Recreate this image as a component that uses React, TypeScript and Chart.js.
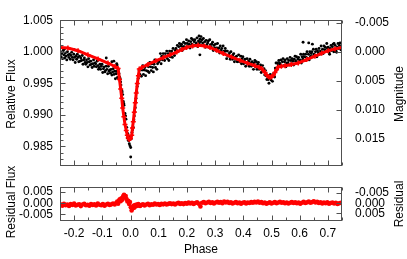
import React, { useEffect, useRef } from 'react';
import { Chart, registerables } from 'chart.js';
Chart.register(...registerables);

const FONT = '"Liberation Sans", Arial, Helvetica, sans-serif';
const RED = '#ff0000';
const FRAME = '#505050';

const PHASE_MIN = -0.25;
const PHASE_MAX = 0.75;
const FLUX_MIN = 0.9819;
const FLUX_MAX = 1.005;
const RES_MIN = -0.008;
const RES_MAX = 0.0073;

const phaseTicks = [-0.2, -0.1, 0.0, 0.1, 0.2, 0.3, 0.4, 0.5, 0.6, 0.7];
const phaseMinorTicks = [-0.25, -0.15, -0.05, 0.05, 0.15, 0.25, 0.35, 0.45, 0.55, 0.65, 0.75];
const fluxTicks = [0.985, 0.99, 0.995, 1.0, 1.005];
const magTicks = [-0.005, 0.0, 0.005, 0.01, 0.015];
const magTickLabels = ['-0.005', '0.000', '0.005', '0.010', '0.015'];
const resTicks = [-0.005, 0.0, 0.005];
const resMagTicks = [-0.005, 0.0, 0.005];
const resMagLabels = ['-0.005', '0.000', '0.005'];

// model light curve (red)
const modelPhase = [
  -0.25, -0.222, -0.186, -0.151, -0.115, -0.08, -0.055, -0.044,
  -0.039, -0.0348, -0.031, -0.0277, -0.0235, -0.0195, -0.015, -0.0113, -0.008, -0.0043,
  0.0, 0.0043, 0.007, 0.0099, 0.0135, 0.017, 0.0205, 0.0241, 0.028, 0.0312,
  0.04, 0.062, 0.09, 0.116, 0.14, 0.164, 0.182, 0.199, 0.22, 0.24, 0.262, 0.282,
  0.305, 0.329, 0.358, 0.388, 0.415, 0.441, 0.456, 0.465, 0.471, 0.477, 0.483,
  0.489, 0.495, 0.501, 0.507, 0.512, 0.518, 0.524, 0.535, 0.548, 0.57, 0.595,
  0.625, 0.654, 0.678, 0.701, 0.725, 0.75,
];
const modelFlux = [
  1.00068, 1.00058, 1.00016, 0.99951, 0.99886, 0.99821, 0.99765, 0.99734,
  0.9956, 0.99409, 0.9926, 0.99106, 0.9897, 0.98847, 0.9875, 0.98673, 0.9863, 0.98608,
  0.98625, 0.98673, 0.9879, 0.9889, 0.9904, 0.99192, 0.99345, 0.99496, 0.9962, 0.99727,
  0.9975, 0.99799, 0.99855, 0.99906, 0.9995, 0.99994, 1.00035, 1.00068, 1.00092, 1.00101, 1.0009, 1.00068,
  1.00022, 0.99971, 0.99918, 0.99864, 0.99818, 0.99777, 0.99752, 0.99734, 0.997, 0.99669, 0.9963,
  0.99604, 0.99595, 0.99604, 0.9963, 0.99669, 0.99715, 0.99756, 0.9977, 0.99777, 0.99798, 0.99821,
  0.99875, 0.99929, 0.99975, 1.00016, 1.00045, 1.00068,
];

// observed points (black)
const obsPhase = [
  // before primary eclipse
  -0.2485, -0.246, -0.2435, -0.241, -0.2385, -0.236, -0.2335, -0.231, -0.2285, -0.226,
  -0.2235, -0.221, -0.2185, -0.216, -0.2135, -0.211, -0.2085, -0.206, -0.2035, -0.201,
  -0.1985, -0.196, -0.1935, -0.191, -0.1885, -0.186, -0.1835, -0.181, -0.1785, -0.176,
  -0.1735, -0.171, -0.1685, -0.166, -0.1635, -0.161, -0.1585, -0.156, -0.1535, -0.151,
  -0.1485, -0.146, -0.1435, -0.141, -0.1385, -0.136, -0.1335, -0.131, -0.1285, -0.126,
  -0.1235, -0.121, -0.1185, -0.116, -0.1135, -0.111, -0.1085, -0.106, -0.1035, -0.101,
  -0.0985, -0.096, -0.0935, -0.091, -0.0885, -0.086, -0.0835, -0.081, -0.0785, -0.076,
  -0.0735, -0.071, -0.0685, -0.066, -0.0635, -0.061, -0.0585, -0.056, -0.0535, -0.051,
  -0.0485, -0.046,
  -0.235, -0.2, -0.112, -0.086, -0.066, -0.059, -0.049, -0.0475,
  // primary eclipse
  -0.0433, -0.0408, -0.039, -0.0372, -0.035, -0.0337, -0.0312, -0.0295, -0.0277, -0.0255,
  -0.024, -0.023, -0.0195, -0.0175, -0.016, -0.0135, -0.0113, -0.0095, -0.0078, -0.006,
  -0.0043, -0.002, 0.0007, 0.0007, 0.003, 0.0053, 0.0075, 0.0099, 0.012, 0.0135,
  0.0155, 0.017, 0.0185, 0.0195, 0.022, 0.024, 0.0255, 0.0275, 0.0291, 0.031,
  // rising branch
  0.0335, 0.036, 0.0385, 0.041, 0.0435, 0.046, 0.0485, 0.051, 0.0535, 0.056,
  0.0585, 0.061, 0.0635, 0.066, 0.0685, 0.071, 0.0735, 0.076, 0.0785, 0.081,
  0.0835, 0.086, 0.0885, 0.091, 0.0935, 0.096, 0.0985,
  0.101, 0.1035, 0.106, 0.1085, 0.111, 0.1135, 0.116, 0.1185, 0.121, 0.1235,
  0.126, 0.1285, 0.131, 0.1335, 0.136, 0.1385, 0.141, 0.1435, 0.146, 0.1485,
  0.151, 0.1535, 0.156, 0.1585, 0.161,
  // maximum
  0.1635, 0.166, 0.1685, 0.171, 0.1735, 0.176, 0.1785, 0.181, 0.1835, 0.186,
  0.1885, 0.191, 0.1935, 0.196, 0.1985, 0.201, 0.2035, 0.206, 0.2085, 0.211,
  0.2135, 0.216, 0.2185, 0.221, 0.2235, 0.226, 0.2285, 0.231, 0.2335, 0.236,
  0.2385, 0.241, 0.2435, 0.246, 0.2485, 0.251, 0.2535, 0.256, 0.2585, 0.261,
  0.2635, 0.266, 0.2685, 0.271, 0.2735, 0.276, 0.2785, 0.281, 0.2835, 0.286,
  0.2885, 0.291, 0.2935, 0.296, 0.2985, 0.301, 0.3035, 0.306, 0.3085, 0.311,
  0.3135, 0.316, 0.3185, 0.321, 0.3235, 0.326, 0.3285, 0.331, 0.3335, 0.336,
  0.3385, 0.246, 0.243, 0.25,
  // falling branch
  0.341, 0.3435, 0.346, 0.3485, 0.351, 0.3535, 0.356, 0.3585, 0.361, 0.3635,
  0.366, 0.3685, 0.371, 0.3735, 0.376, 0.3785, 0.381, 0.3835, 0.386, 0.3885,
  0.391, 0.3935, 0.396, 0.3985, 0.401, 0.4035, 0.406, 0.4085, 0.411, 0.4135,
  0.416, 0.4185, 0.421, 0.4235, 0.426, 0.4285, 0.431, 0.4335, 0.436, 0.4385,
  0.441, 0.4435,
  // secondary eclipse
  0.446, 0.4485, 0.451, 0.4535, 0.456, 0.4585, 0.461, 0.4635, 0.466, 0.4685,
  0.471, 0.4735, 0.476, 0.4785, 0.481, 0.4835, 0.486, 0.4885, 0.491, 0.4935,
  0.496, 0.4985, 0.501, 0.5035, 0.506, 0.5085, 0.511, 0.5135, 0.516, 0.5185,
  0.521, 0.5235, 0.526, 0.5285,
  // after secondary
  0.531, 0.5335, 0.536, 0.5385, 0.541, 0.5435, 0.546, 0.5485, 0.551, 0.5535,
  0.556, 0.5585, 0.561, 0.5635, 0.566, 0.5685, 0.571, 0.5735, 0.576, 0.5785,
  0.581, 0.5835, 0.586, 0.5885, 0.591, 0.5935, 0.596, 0.5985, 0.601, 0.6035,
  0.606, 0.6085, 0.611, 0.6135, 0.616, 0.6185, 0.621, 0.6235, 0.626, 0.6285,
  0.631, 0.6335, 0.636, 0.6385, 0.641, 0.6435, 0.646, 0.6485, 0.651, 0.6535,
  0.656, 0.6585, 0.661, 0.6635, 0.666, 0.6685, 0.671, 0.6735, 0.676, 0.6785,
  0.681, 0.6835, 0.686, 0.6885, 0.691, 0.6935, 0.696, 0.6985,
  0.701, 0.7035, 0.706, 0.7085, 0.711, 0.7135, 0.716, 0.7185, 0.721, 0.7235,
  0.726, 0.7285, 0.731, 0.7335, 0.736, 0.7385, 0.741, 0.7435, 0.746, 0.7485,
  0.612, 0.632, 0.645, 0.722,
];
const obsFlux = [
  // before primary eclipse
  1.0, 0.9992, 0.9997, 0.9989, 1.0002, 0.9995, 0.999, 0.9998, 0.9993, 0.9987,
  1.0, 0.9995, 0.9991, 0.9996, 0.9988, 0.9994, 0.9999, 0.9991, 0.9987, 0.9996,
  0.9991, 0.9983, 0.9993, 0.9988, 0.9996, 0.9991, 0.9984, 0.9993, 0.9985, 0.999,
  0.9986, 0.9994, 0.998, 0.9987, 0.999, 0.9983, 0.998, 0.9987, 0.9983, 0.9976,
  0.9989, 0.9984, 0.9979, 0.9985, 0.998, 0.9975, 0.9981, 0.9987, 0.9977, 0.9982,
  0.9981, 0.9976, 0.9985, 0.9978, 0.9972, 0.9975, 0.998, 0.9972, 0.9977, 0.998,
  0.9967, 0.9973, 0.9976, 0.9968, 0.997, 0.9977, 0.9972, 0.9965, 0.9977, 0.9969,
  0.9971, 0.9966, 0.9972, 0.9963, 0.9968, 0.9973, 0.9964, 0.9969, 0.9957, 0.9965,
  0.9969, 0.9959,
  1.0004, 1.0003, 0.9987, 0.999, 0.9984, 0.9985, 0.9981, 0.9979,
  // primary eclipse
  0.9972, 0.9965, 0.996, 0.9958, 0.9952, 0.9947, 0.9939, 0.9936, 0.9932, 0.9921,
  0.9918, 0.9915, 0.9902, 0.9898, 0.9893, 0.988, 0.9863, 0.987, 0.9859, 0.9866,
  0.9854, 0.9851, 0.9848, 0.9833, 0.9862, 0.9872, 0.9876, 0.988, 0.9892, 0.9898,
  0.9905, 0.9911, 0.992, 0.9926, 0.9937, 0.9945, 0.995, 0.9958, 0.9963, 0.997,
  // rising branch
  0.9964, 0.9974, 0.9961, 0.9971, 0.9978, 0.9964, 0.9971, 0.9975, 0.9962, 0.997,
  0.9979, 0.9969, 0.9976, 0.9967, 0.9983, 0.9976, 0.997, 0.9981, 0.9975, 0.9968,
  0.998, 0.9987, 0.9975, 0.9986, 0.9972, 0.9981, 0.9985,
  0.9984, 0.9987, 0.9997, 0.9981, 0.9993, 0.9987, 0.9997, 0.9992, 0.9986, 0.9997,
  0.9992, 1.0001, 0.9989, 0.9997, 0.9986, 1.0001, 0.9992, 0.9997, 1.0001, 0.9991,
  1.0005, 0.9997, 0.9994, 1.0002, 1.0005,
  // maximum
  1.0002, 1.001, 1.0, 1.0008, 1.0013, 1.0003, 1.0009, 1.0012, 1.0002, 1.0008,
  1.0015, 1.0008, 1.0013, 1.0006, 1.0019, 1.0013, 1.0008, 1.0017, 1.0012, 1.0006,
  1.0016, 1.0021, 1.0012, 1.0019, 1.0009, 1.0016, 1.0019, 1.0011, 1.0014, 1.0022,
  1.0008, 1.0017, 1.0013, 1.002, 1.0016, 1.001, 1.0019, 1.0014, 1.0021, 1.001,
  1.0016, 1.0007, 1.0018, 1.0011, 1.0014, 1.0017, 1.0007, 1.0019, 1.0011, 1.0007,
  1.0012, 1.0015, 1.0002, 1.001, 1.0006, 1.0012, 1.0002, 1.0006, 1.0013, 1.0002,
  1.0006, 0.9998, 1.0009, 1.0002, 1.0005, 0.9998, 1.0009, 1.0001, 0.9997, 1.0005,
  1.0001, 0.9995, 1.0025, 1.0024,
  // falling branch
  0.9989, 1.0001, 0.9993, 0.9995, 0.9998, 0.9988, 1.0, 0.9992, 0.9988, 0.9995,
  0.9997, 0.9984, 0.9991, 0.9988, 0.9993, 0.9984, 0.9987, 0.9995, 0.9984, 0.9985,
  0.9993, 0.9981, 0.9989, 0.9992, 0.9981, 0.9985, 0.9988, 0.9977, 0.9982, 0.9989,
  0.9981, 0.9985, 0.9977, 0.9988, 0.9982, 0.9977, 0.9984, 0.9979, 0.9972, 0.9982,
  0.9986, 0.9976,
  // secondary eclipse
  0.9984, 0.9972, 0.998, 0.9983, 0.9972, 0.9976, 0.9979, 0.9967, 0.9972, 0.9978,
  0.9969, 0.9973, 0.9963, 0.997, 0.9962, 0.9956, 0.9962, 0.9956, 0.995, 0.9959,
  0.9964, 0.9955, 0.9962, 0.9953, 0.9961, 0.9966, 0.996, 0.9974, 0.9982, 0.9972,
  0.9982, 0.9979, 0.9986, 0.9982,
  // after secondary
  0.998, 0.9987, 0.9977, 0.9984, 0.9989, 0.9978, 0.9984, 0.9987, 0.9976, 0.9982,
  0.9989, 0.9982, 0.9986, 0.9979, 0.9991, 0.9986, 0.9981, 0.9989, 0.9985, 0.9979,
  0.9988, 0.9993, 0.9985, 0.9992, 0.9982, 0.9988, 0.9991, 0.9984, 0.9987, 0.9996,
  0.9982, 0.9992, 0.9988, 0.9996, 0.9992, 0.9986, 0.9996, 0.9991, 1.0, 0.9989,
  0.9996, 0.9987, 1.0, 0.9993, 0.9997, 1.0, 0.9992, 1.0004, 0.9996, 0.9994,
  1.0, 1.0004, 0.9992, 1.0001, 0.9998, 1.0005, 0.9996, 1.0001, 1.0009, 0.9999,
  1.0004, 0.9997, 1.0009, 1.0003, 1.0007, 1.0001, 1.0013, 1.0005,
  1.0007, 0.9999, 0.9996, 1.0005, 1.001, 1.0002, 1.0008, 1.0012, 1.0, 1.0004,
  1.001, 1.0002, 0.9999, 1.0007, 1.0013, 1.0005, 1.001, 1.0014, 1.0003, 1.0007,
  1.0015, 1.0014, 1.0012, 1.0013,
];

// residuals (red, lower panel)
const resPhase = [
  -0.248, -0.242, -0.236, -0.23, -0.224, -0.218, -0.212, -0.206, -0.2, -0.194, -0.188, -0.182, -0.176, -0.17,
  -0.164, -0.158, -0.152, -0.146, -0.14, -0.134, -0.128, -0.122, -0.116, -0.11, -0.104, -0.098, -0.092, -0.086,
  -0.08, -0.074, -0.068, -0.062, -0.056, -0.05,
  -0.047, -0.044, -0.041, -0.038, -0.035, -0.032, -0.029, -0.026, -0.023, -0.02, -0.017, -0.014, -0.011, -0.008,
  -0.005, -0.002, 0.001, 0.004, 0.007, 0.01, 0.013, 0.016, 0.019, 0.022, 0.025, 0.028, 0.031, 0.034,
  0.038, 0.044, 0.05, 0.056, 0.062, 0.068, 0.074, 0.08, 0.086, 0.092, 0.098, 0.104, 0.11, 0.116, 0.122, 0.128,
  0.134, 0.14, 0.146, 0.152, 0.158, 0.164, 0.17, 0.176, 0.182, 0.188, 0.194, 0.2, 0.206, 0.212, 0.218, 0.224,
  0.23, 0.236, 0.242, 0.248, 0.254, 0.26, 0.266, 0.272, 0.278, 0.284, 0.29, 0.296, 0.302, 0.308, 0.314, 0.32,
  0.326, 0.332, 0.338, 0.344, 0.35, 0.356, 0.362, 0.368, 0.374, 0.38, 0.386, 0.392, 0.398, 0.404, 0.41, 0.416,
  0.422, 0.428, 0.434, 0.44, 0.446, 0.452, 0.458, 0.464, 0.47, 0.476, 0.482, 0.488, 0.494, 0.5, 0.506, 0.512,
  0.518, 0.524, 0.53, 0.536, 0.542, 0.548, 0.554, 0.56, 0.566, 0.572, 0.578, 0.584, 0.59, 0.596, 0.602, 0.608,
  0.614, 0.62, 0.626, 0.632, 0.638, 0.644, 0.65, 0.656, 0.662, 0.668, 0.674, 0.68, 0.686, 0.692, 0.698, 0.704,
  0.71, 0.716, 0.722, 0.728, 0.734, 0.74, 0.746,
];
const resFlux = [
  -0.0005, -0.0011, -0.0003, -0.0009, -0.0006, -0.0012, -0.0004, -0.0008, -0.0002, -0.001, -0.0007, -0.0005, -0.0013, -0.0006,
  -0.0003, -0.0009, -0.0007, -0.0011, -0.0004, -0.0008, -0.0005, -0.001, -0.0002, -0.0007, -0.0009, -0.0004, -0.0011, -0.0006,
  -0.0003, -0.0008, -0.0005, -0.0001, -0.0006, 0.0002,
  0.0007, -0.0002, 0.0012, 0.0018, 0.0009, 0.0022, 0.0016, 0.0031, 0.0038, 0.0026, 0.0032, 0.0019, 0.0008, 0.0011,
  -0.0003, 0.0005, -0.0018, -0.0033, -0.0024, -0.0012, -0.002, -0.0008, -0.0014, -0.0006, -0.0011, -0.0004, -0.0009, -0.0012,
  -0.0008, -0.0005, -0.001, -0.0006, -0.0003, -0.0009, -0.0005, -0.0007, -0.0002, -0.0006, -0.0004, -0.0008, -0.0003, -0.0005, -0.0001, -0.0006,
  -0.0003, 0.0, -0.0004, -0.0002, -0.0006, -0.0001, 0.0002, -0.0003, 0.0, -0.0004, 0.0001, -0.0002, 0.0003, -0.0001, 0.0002, -0.0003,
  0.0001, 0.0004, -0.0002, -0.0015, 0.0002, 0.0005, 0.0, 0.0003, 0.0006, 0.0001, 0.0004, -0.0001, 0.0003, 0.0006, 0.0002, 0.0005,
  0.0, 0.0007, 0.0003, 0.0006, 0.0001, 0.0004, -0.0001, 0.0002, 0.0005, 0.0, 0.0003, -0.0002, 0.0002, 0.0004, -0.0001, 0.0003,
  0.0001, 0.0005, 0.0002, 0.0006, 0.0003, 0.0007, 0.0002, 0.0005, 0.0, 0.0003, -0.0002, 0.0001, 0.0004, -0.0001, 0.0002, 0.0005,
  0.0, 0.0003, 0.0006, 0.0002, 0.0004, 0.0, 0.0003, -0.0001, 0.0002, 0.0005, 0.0001, 0.0004, 0.0, 0.0003, -0.0002, 0.0002,
  0.0006, 0.0001, 0.0004, 0.0008, 0.0002, 0.0005, 0.0009, 0.0003, 0.0006, 0.0001, 0.0004, -0.0001, 0.0003, 0.0, 0.0004, -0.0002,
  0.0001, 0.0003, -0.0001, 0.0002, -0.0003, 0.0, 0.0002,
];

const magToFlux = (m: number) => Math.pow(10, -m / 2.5);
const magToRes = (m: number) => Math.pow(10, -m / 2.5) - 1;

type Title = { text: string; x: number; y: number; rot?: boolean };

function framePlugin(cfg: {
  id: string;
  xMajor: number[];
  xMinor: number[];
  yMajor: number[];
  yMinor: number[];
  yRight: number[];
  titles: Title[];
}) {
  return {
    id: cfg.id,
    afterDatasetsDraw(chart: any) {
      const { ctx, chartArea: a, scales } = chart;
      const L = Math.round(a.left) + 0.5;
      const R = Math.round(a.right) - 0.5;
      const T = Math.round(a.top) + 0.5;
      const B = Math.round(a.bottom) - 0.5;
      ctx.save();
      ctx.strokeStyle = FRAME;
      ctx.lineWidth = 1;
      ctx.beginPath();
      const seg = (x1: number, y1: number, x2: number, y2: number) => {
        ctx.moveTo(x1, y1);
        ctx.lineTo(x2, y2);
      };
      const xs = scales.x;
      const ys = scales.y;
      const tx = (v: number, len: number) => {
        const p = Math.round(xs.getPixelForValue(v)) + 0.5;
        seg(p, B, p, B - len);
        seg(p, T, p, T + len);
      };
      cfg.xMajor.forEach((v) => tx(v, 5));
      cfg.xMinor.forEach((v) => tx(v, 3));
      const ty = (v: number, len: number) => {
        const p = Math.round(ys.getPixelForValue(v)) + 0.5;
        seg(L, p, L + len, p);
      };
      cfg.yMajor.forEach((v) => ty(v, 5));
      cfg.yMinor.forEach((v) => ty(v, 3));
      cfg.yRight.forEach((v) => {
        const p = Math.round(ys.getPixelForValue(v)) + 0.5;
        seg(R, p, R - 5, p);
      });
      ctx.stroke();
      ctx.strokeRect(L, T, R - L, B - T);
      ctx.fillStyle = '#000';
      ctx.font = '12px ' + FONT;
      ctx.textAlign = 'center';
      ctx.textBaseline = 'middle';
      cfg.titles.forEach((t) => {
        ctx.save();
        ctx.translate(t.x, t.y);
        if (t.rot) ctx.rotate(-Math.PI / 2);
        ctx.fillText(t.text, 0, 0);
        ctx.restore();
      });
      ctx.restore();
    },
  };
}

const tickFont = { family: FONT, size: 12 };

function yAxis(min: number, max: number, width: number, position: 'left' | 'right', values: number[], labels: (v: number, i: number) => string, padding: number) {
  return {
    type: 'linear',
    position,
    min,
    max,
    grid: { display: false, drawTicks: false },
    border: { display: false },
    afterFit: (s: any) => {
      s.width = width;
    },
    afterBuildTicks: (s: any) => {
      s.ticks = values.map((v) => ({ value: v }));
    },
    ticks: {
      autoSkip: false,
      padding,
      color: '#000',
      font: tickFont,
      callback: (v: any, i: number) => labels(Number(v), i),
    },
  };
}

export default function App() {
  const topRef = useRef<HTMLCanvasElement>(null);
  const botRef = useRef<HTMLCanvasElement>(null);

  useEffect(() => {
    const fluxMinor: number[] = [];
    for (let k = 982; k <= 1005; k++) {
      if (k % 5 !== 0) fluxMinor.push(k / 1000);
    }

    const top = new Chart(topRef.current as HTMLCanvasElement, {
      type: 'scatter',
      data: {
        datasets: [
          {
            label: 'model',
            data: modelPhase.map((p, i) => ({ x: p, y: modelFlux[i] })),
            showLine: true,
            borderColor: RED,
            borderWidth: 3,
            pointStyle: 'cross',
            pointRadius: 2.5,
            pointBorderWidth: 1.5,
            pointBorderColor: RED,
            pointBackgroundColor: RED,
            order: 0,
          } as any,
          {
            label: 'observed',
            data: obsPhase.map((p, i) => ({ x: p, y: obsFlux[i] })),
            pointRadius: 1.45,
            pointBorderWidth: 0,
            pointBackgroundColor: '#000',
            pointBorderColor: '#000',
            order: 1,
          } as any,
        ],
      },
      options: {
        responsive: false,
        animation: false,
        events: [],
        layout: { padding: { top: 6, bottom: 4, left: 0, right: 0 } },
        plugins: { legend: { display: false }, tooltip: { enabled: false } },
        scales: {
          x: { type: 'linear', min: PHASE_MIN, max: PHASE_MAX, display: false },
          y: yAxis(FLUX_MIN, FLUX_MAX, 60, 'left', fluxTicks, (v) => v.toFixed(3), 7),
          y2: yAxis(FLUX_MIN, FLUX_MAX, 65, 'right', magTicks.map(magToFlux), (_v, i) => magTickLabels[i], 13),
        } as any,
      },
      plugins: [
        framePlugin({
          id: 'frameTop',
          xMajor: phaseTicks,
          xMinor: phaseMinorTicks,
          yMajor: fluxTicks,
          yMinor: fluxMinor,
          yRight: magTicks.map(magToFlux),
          titles: [
            { text: 'Relative Flux', x: 12, y: 94, rot: true },
            { text: 'Magnitude', x: 400, y: 94, rot: true },
          ],
        }),
      ],
    });

    const bot = new Chart(botRef.current as HTMLCanvasElement, {
      type: 'scatter',
      data: {
        datasets: [
          {
            label: 'residual',
            data: resPhase.map((p, i) => ({ x: p, y: resFlux[i] })),
            pointRadius: 2.3,
            pointBorderWidth: 0,
            pointBackgroundColor: RED,
            pointBorderColor: RED,
          } as any,
        ],
      },
      options: {
        responsive: false,
        animation: false,
        events: [],
        layout: { padding: { top: 47, bottom: 0, left: 0, right: 0 } },
        plugins: { legend: { display: false }, tooltip: { enabled: false } },
        scales: {
          x: {
            type: 'linear',
            min: PHASE_MIN,
            max: PHASE_MAX,
            grid: { display: false, drawTicks: false },
            border: { display: false },
            afterFit: (s: any) => {
              s.height = 38;
            },
            afterBuildTicks: (s: any) => {
              s.ticks = phaseTicks.map((v) => ({ value: v }));
            },
            ticks: {
              autoSkip: false,
              maxRotation: 0,
              padding: 5,
              color: '#000',
              font: tickFont,
              callback: (v: any) => Number(v).toFixed(1),
            },
          },
          y: yAxis(RES_MIN, RES_MAX, 60, 'left', resTicks, (v) => v.toFixed(3), 7),
          y2: yAxis(RES_MIN, RES_MAX, 65, 'right', resMagTicks.map(magToRes), (_v, i) => resMagLabels[i], 13),
        } as any,
      },
      plugins: [
        framePlugin({
          id: 'frameBot',
          xMajor: phaseTicks,
          xMinor: phaseMinorTicks,
          yMajor: resTicks,
          yMinor: [],
          yRight: resMagTicks.map(magToRes),
          titles: [
            { text: 'Residual Flux', x: 12, y: 62, rot: true },
            { text: 'Residual', x: 400, y: 64, rot: true },
            { text: 'Phase', x: 201, y: 110 },
          ],
        }),
      ],
    });

    return () => {
      top.destroy();
      bot.destroy();
    };
  }, []);

  return (
    <div style={{ position: 'absolute', left: 0, top: 0, width: 407, height: 259, background: '#fff' }}>
      <canvas ref={topRef} width={407} height={186} style={{ position: 'absolute', left: 0, top: 0, width: 407, height: 186 }} />
      <canvas ref={botRef} width={407} height={119} style={{ position: 'absolute', left: 0, top: 140, width: 407, height: 119 }} />
    </div>
  );
}
